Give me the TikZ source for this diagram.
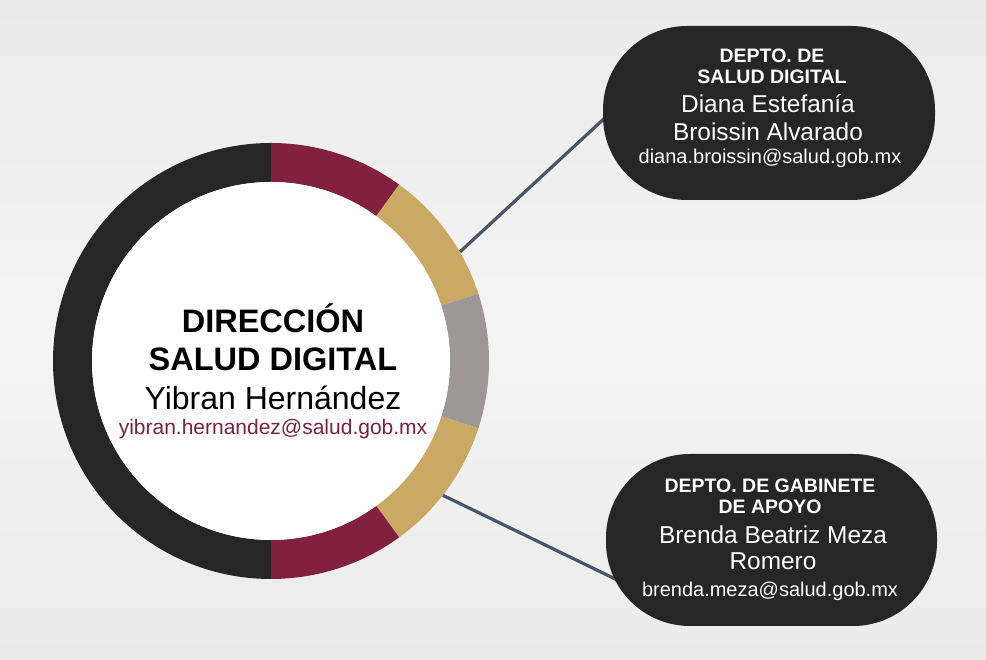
\documentclass[tikz,border=0pt]{standalone}
\usepackage{fontspec}
\setmainfont{Liberation Sans}
\definecolor{ringblack}{HTML}{262626}
\definecolor{maroon}{HTML}{82203F}
\definecolor{tan}{HTML}{C9A963}
\definecolor{ringgray}{HTML}{9D9797}
\definecolor{mailmaroon}{HTML}{7B2241}
\definecolor{conncol}{HTML}{4A5565}
\definecolor{pillcol}{HTML}{262626}
\definecolor{bgedge}{HTML}{E2E2E2}
\definecolor{bgmid}{HTML}{F4F4F4}
\pgfdeclareverticalshading{bgshade}{100bp}{color(0bp)=(bgedge); color(50bp)=(bgmid); color(100bp)=(bgedge)}
\pgfdeclarelayer{bgl}
\pgfdeclarelayer{lines}
\pgfsetlayers{bgl,lines,main}
\tikzset{
  pill/.style={draw=none, fill=pillcol, rounded corners=84pt, inner sep=0pt},
  conn/.style={draw=conncol, line width=3.2pt},
  txt/.style={anchor=base, inner sep=0pt, align=center},
  ptitle/.style={txt, text=white, font=\fontsize{19.5}{21}\selectfont\bfseries},
  pname/.style={txt, text=white, font=\fontsize{24.4}{28}\selectfont},
  pmail/.style={txt, text=white, font=\fontsize{20}{23}\selectfont},
}
\newcommand{\annseg}[3]{%
  \fill[#3] (#1:218) arc[start angle=#1, end angle=#2, radius=218]
    -- (#2:179) arc[start angle=#2, end angle=#1, radius=179] -- cycle;}
\begin{document}
\begin{tikzpicture}[x=1pt,y=1pt]
\useasboundingbox (0,0) rectangle (986,660);
\begin{pgfonlayer}{bgl}
  \shade[shading=bgshade] (0,0) rectangle (986,660);
\end{pgfonlayer}
% central circle
\node[circle, minimum size=436pt, inner sep=0pt] (dir) at (271,299) {};
\begin{scope}[shift={(dir.center)}]
  \annseg{90}{270}{ringblack}
  \annseg{54}{90}{maroon}
  \annseg{18}{54}{tan}
  \annseg{-18}{18}{ringgray}
  \annseg{-54}{-18}{tan}
  \annseg{-90}{-54}{maroon}
  \fill[white] (0,0) circle (179);
\end{scope}
\node[txt, font=\fontsize{32.5}{39}\selectfont\bfseries] (d1) at (273,327) {DIRECCIÓN};
\node[txt, font=\fontsize{32.5}{39}\selectfont\bfseries] (d2) at (273,289) {SALUD DIGITAL};
\node[txt, font=\fontsize{32}{38}\selectfont] (d3) at (273,250) {Yibran Hernández};
\node[txt, text=mailmaroon, font=\fontsize{21}{25}\selectfont] (d4) at (273,225) {yibran.hernandez@salud.gob.mx};
% top department
\node[pill, minimum width=332pt, minimum height=174pt] (n1) at (769,547) {};
\node[ptitle] (n1a) at (772,597) {DEPTO. DE};
\node[ptitle] (n1b) at (772,576) {SALUD DIGITAL};
\node[pname] (n1c) at (768,547) {Diana Estefanía};
\node[pname] (n1d) at (768,519) {Broissin Alvarado};
\node[pmail] (n1e) at (770,496) {diana.broissin@salud.gob.mx};
% bottom department
\node[pill, minimum width=331pt, minimum height=172pt] (n2) at (771.5,120) {};
\node[ptitle] (n2a) at (770,167) {DEPTO. DE GABINETE};
\node[ptitle] (n2b) at (770,146) {DE APOYO};
\node[pname] (n2c) at (773,116) {Brenda Beatriz Meza};
\node[pname] (n2d) at (773,90) {Romero};
\node[pmail] (n2e) at (770,63) {brenda.meza@salud.gob.mx};
% connectors
\coordinate (e1) at (620,556);
\coordinate (e2) at (640,69);
\begin{pgfonlayer}{lines}
  \draw[conn] (dir.30) -- (e1);
  \draw[conn] (dir.-38) -- (e2);
\end{pgfonlayer}
\end{tikzpicture}
\end{document}
